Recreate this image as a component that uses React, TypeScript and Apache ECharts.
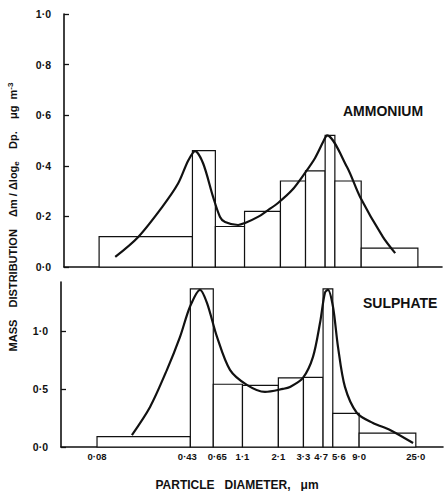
import React, { useEffect, useRef } from "react";
import * as echarts from "echarts";

// Impactor stage boundaries (particle diameter, µm)
const binEdges = [0.08, 0.43, 0.65, 1.1, 2.1, 3.3, 4.7, 5.6, 9.0, 25.0];
const binLabels = ["0·08", "0·43", "0·65", "1·1", "2·1", "3·3", "4·7", "5·6", "9·0", "25·0"];

// Stage mass distributions Δm/Δlog_e Dp (µg m^-3)
const ammoniumBins = [0.12, 0.46, 0.16, 0.22, 0.34, 0.38, 0.52, 0.34, 0.075];
const sulphateBins = [0.09, 1.36, 0.54, 0.53, 0.595, 0.6, 1.36, 0.29, 0.12];

// Fitted distribution curves
const ammoniumCurveD = [0.107, 0.162, 0.249, 0.332, 0.398, 0.451, 0.521, 0.624, 0.707, 0.774, 0.979, 1.11, 1.4, 1.68, 2.01, 2.59, 3.27, 3.92, 4.69, 4.86, 6.97, 8.82, 13.3, 16.6];
const ammoniumCurveM = [0.04, 0.119, 0.237, 0.33, 0.42, 0.458, 0.41, 0.277, 0.198, 0.178, 0.166, 0.174, 0.198, 0.225, 0.253, 0.304, 0.372, 0.431, 0.51, 0.52, 0.395, 0.277, 0.119, 0.055];

const sulphateCurveD = [0.15, 0.208, 0.282, 0.357, 0.427, 0.512, 0.58, 0.695, 0.878, 1.19, 1.65, 2.28, 2.59, 3.27, 3.92, 4.45, 4.86, 5.13, 5.62, 6.15, 6.97, 8.65, 11.55, 15.7, 23.8];
const sulphateCurveM = [0.103, 0.345, 0.664, 0.948, 1.207, 1.353, 1.241, 0.948, 0.664, 0.535, 0.474, 0.5, 0.517, 0.595, 0.776, 1.069, 1.328, 1.353, 1.207, 0.862, 0.517, 0.293, 0.207, 0.147, 0.034];

const FONT = "'Liberation Sans', Arial, sans-serif";
const INK = "#111";

const toBars = (vals: number[]) =>
  vals.map((v, i) => [binEdges[i], binEdges[i + 1], v]);

const toPairs = (xs: number[], ys: number[]) => xs.map((x, i) => [x, ys[i]]);

const fmtDot = (v: number) => v.toFixed(1).replace(".", "·");

// Crowded diameter labels are nudged sideways so they don't collide
const labelNudge: Record<string, string> = {
  "0·43": "l3",
  "0·65": "r4",
  "4·7": "l2",
  "5·6": "r6",
};

const nearestEdgeLabel = (v: number) => {
  let best = 0;
  let bestDiff = Infinity;
  binEdges.forEach((e, i) => {
    const d = Math.abs(Math.log(e) - Math.log(v));
    if (d < bestDiff) {
      bestDiff = d;
      best = i;
    }
  });
  const txt = binLabels[best];
  const nudge = labelNudge[txt];
  return nudge ? `{${nudge}|${txt}}` : txt;
};

const labelBase = { color: INK, fontFamily: FONT, fontWeight: "bold" as const, fontSize: 10 };

const histRender = (params: any, api: any) => {
  const x0 = api.value(0);
  const x1 = api.value(1);
  const y = api.value(2);
  const p0 = api.coord([x0, 0]);
  const p1 = api.coord([x1, y]);
  return {
    type: "rect",
    shape: { x: p0[0], y: p1[1], width: p1[0] - p0[0], height: p0[1] - p1[1] },
    style: { fill: "#fff", stroke: INK, lineWidth: 1.2 },
  };
};

export default function App() {
  const ref = useRef<HTMLDivElement>(null);

  useEffect(() => {
    if (!ref.current) return;
    const chart = echarts.init(ref.current, null, { renderer: "svg" });

    const axisLine = { show: true, onZero: false, lineStyle: { color: INK, width: 1.6 } };
    const yLabel = {
      ...labelBase,
      fontSize: 10.5,
      margin: 13,
      formatter: (v: number) => fmtDot(v),
    };
    const yTick = { show: true, inside: true, length: 5, lineStyle: { color: INK, width: 1.3 } };

    chart.setOption({
      animation: false,
      backgroundColor: "#fff",
      grid: [
        { left: 64, top: 14, width: 378, height: 253 },
        { left: 61, top: 282, width: 382, height: 165 },
      ],
      xAxis: [
        {
          type: "log",
          gridIndex: 0,
          min: 0.0425,
          max: 38.6,
          axisLine,
          axisTick: { show: false },
          axisLabel: { show: false },
          splitLine: { show: false },
        },
        {
          type: "log",
          gridIndex: 1,
          min: 0.0418,
          max: 40.8,
          axisLine,
          axisTick: { show: false },
          axisLabel: {
            customValues: binEdges,
            ...labelBase,
            fontSize: 9.5,
            margin: 4,
            formatter: (v: number) => nearestEdgeLabel(v),
            rich: {
              l2: { ...labelBase, fontSize: 9.5, padding: [0, 4, 0, 0] },
              l3: { ...labelBase, fontSize: 9.5, padding: [0, 6, 0, 0] },
              r4: { ...labelBase, fontSize: 9.5, padding: [0, 0, 0, 8] },
              r6: { ...labelBase, fontSize: 9.5, padding: [0, 0, 0, 12] },
            },
          },
          splitLine: { show: false },
        },
      ],
      yAxis: [
        {
          type: "value",
          gridIndex: 0,
          min: 0,
          max: 1.0,
          interval: 0.2,
          axisLine,
          axisTick: yTick,
          axisLabel: yLabel,
          splitLine: { show: false },
        },
        {
          type: "value",
          gridIndex: 1,
          min: 0,
          max: 1.42,
          interval: 0.5,
          axisLine,
          axisTick: yTick,
          axisLabel: { ...yLabel, showMaxLabel: false },
          splitLine: { show: false },
        },
      ],
      series: [
        {
          name: "Ammonium stages",
          type: "custom",
          xAxisIndex: 0,
          yAxisIndex: 0,
          renderItem: histRender,
          encode: { x: [0, 1], y: 2 },
          data: toBars(ammoniumBins),
          z: 2,
        },
        {
          name: "Ammonium fit",
          type: "line",
          xAxisIndex: 0,
          yAxisIndex: 0,
          data: toPairs(ammoniumCurveD, ammoniumCurveM),
          smooth: 0.3,
          showSymbol: false,
          lineStyle: { color: INK, width: 2.2 },
          z: 3,
        },
        {
          name: "Sulphate stages",
          type: "custom",
          xAxisIndex: 1,
          yAxisIndex: 1,
          renderItem: histRender,
          encode: { x: [0, 1], y: 2 },
          data: toBars(sulphateBins),
          z: 2,
        },
        {
          name: "Sulphate fit",
          type: "line",
          xAxisIndex: 1,
          yAxisIndex: 1,
          data: toPairs(sulphateCurveD, sulphateCurveM),
          smooth: 0.3,
          showSymbol: false,
          lineStyle: { color: INK, width: 2.2 },
          z: 3,
        },
      ],
      graphic: [
        {
          type: "text",
          left: 343,
          top: 104,
          style: { text: "AMMONIUM", fill: INK, font: `bold 14px ${FONT}` },
        },
        {
          type: "text",
          left: 363,
          top: 296,
          style: { text: "SULPHATE", fill: INK, font: `bold 14px ${FONT}` },
        },
        {
          type: "text",
          x: 237,
          y: 479,
          style: {
            text: "PARTICLE   DIAMETER,   μm",
            fill: INK,
            font: `bold 12px ${FONT}`,
            align: "center",
            verticalAlign: "top",
          },
        },
        {
          type: "text",
          x: 13,
          y: 217,
          rotation: Math.PI / 2,
          style: {
            text: "MASS    DISTRIBUTION    Δm / Δlog{sub|e}    Dp.    μg  m{sup|-3}",
            fill: INK,
            font: `bold 11px ${FONT}`,
            align: "center",
            verticalAlign: "middle",
            rich: {
              sub: { fontSize: 8, fontWeight: "bold", fontFamily: FONT, fill: INK, verticalAlign: "bottom", padding: [5, 0, 0, 0] },
              sup: { fontSize: 8, fontWeight: "bold", fontFamily: FONT, fill: INK, verticalAlign: "top", padding: [0, 0, 6, 0] },
            },
          },
        },
      ],
    });

    return () => chart.dispose();
  }, []);

  return (
    <div
      ref={ref}
      style={{ position: "absolute", left: 0, top: 0, width: 447, height: 491 }}
    />
  );
}
